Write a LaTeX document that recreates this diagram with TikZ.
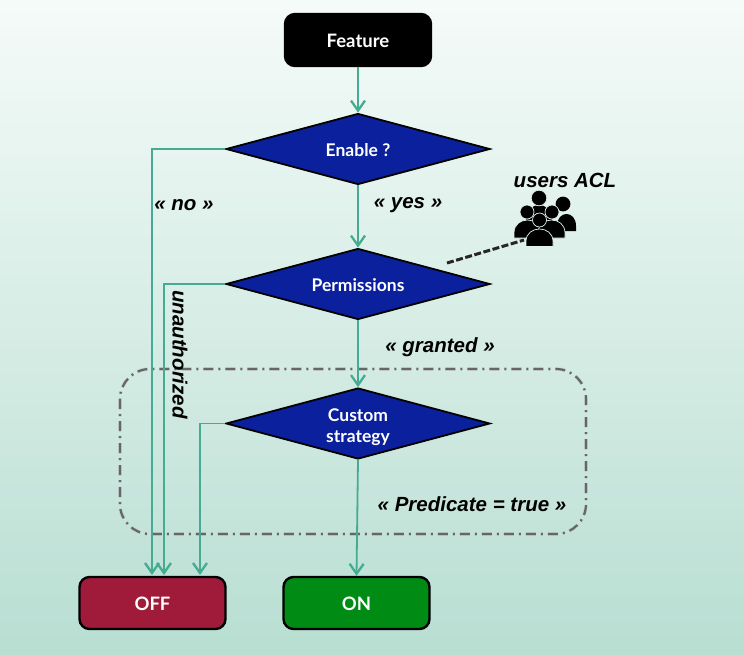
\documentclass[tikz,border=0pt]{standalone}
\usepackage{fontspec}
\setmainfont{Lato}
\newfontfamily\labelfont{Liberation Sans}
\usetikzlibrary{shapes.geometric,arrows.meta}
\definecolor{flow}{HTML}{45AB91}
\definecolor{dblue}{HTML}{0A209C}
\definecolor{offred}{HTML}{A01A3A}
\definecolor{ongreen}{HTML}{008C14}
\definecolor{bgtop}{HTML}{F5FBF9}
\definecolor{bgbot}{HTML}{B8DED2}
\newcommand{\domeshape}[4]{(#1,#4) -- (#1,#4-5) .. controls (#1,#3-#4/3+5/3+#3/3) and (#2,#3-#4/3+5/3+#3/3) .. (#2,#4-5) -- (#2,#4) -- cycle}
\newcommand{\dropline}[1]{\rule{0pt}{#1}}
\tikzset{
  decision/.style={diamond,aspect=3.72,draw=black,fill=dblue,line width=1.8pt,text=white,inner sep=0pt,
    minimum width=264pt,minimum height=71pt,font=\fontsize{17.5}{20}\selectfont\bfseries,align=center},
  terminal/.style={rectangle,rounded corners=10pt,draw=black,line width=2.4pt,text=white,
    minimum width=146pt,minimum height=52pt,text height=15.5pt,text depth=0pt,font=\fontsize{18.5}{20}\selectfont\bfseries},
  flowline/.style={draw=flow,line width=1.8pt,-{Straight Barb[length=10pt,width=14pt,line width=2.3pt]}},
  edgelabel/.style={font=\labelfont\fontsize{20.5}{22}\selectfont\bfseries\itshape,text=black,inner sep=0pt},
  person/.style={fill=black,draw=bgtop!70!bgbot,line width=0.7pt},
  rearperson/.style={fill=black}
}
\begin{document}
\begin{tikzpicture}[x=1pt,y=-1pt]
\useasboundingbox (0,0) rectangle (744,654);
\shade[top color=bgtop,bottom color=bgbot] (0,0) rectangle (744,654);

% grouping frame
\draw[black!30,line width=3.6pt,rounded corners=30pt,opacity=.4,dash pattern=on 10pt off 5pt on 2pt off 5pt]
  (120,369) rectangle (586,534);
\draw[black!60,line width=2.2pt,rounded corners=30pt,dash pattern=on 10pt off 5pt on 2pt off 5pt]
  (120,369) rectangle (586,534);

\node[terminal,fill=black] (feature) at (358,40) {Feature};
\node[decision] (enable) at (358,149) {\dropline{15pt}Enable ?};
\node[decision] (perm) at (358,284) {\dropline{15pt}Permissions};
\node[decision] (custom) at (358,423.5) {\dropline{20pt}Custom\\[1pt]strategy};
\node[terminal,fill=offred] (off) at (152.5,603) {OFF};
\node[terminal,fill=ongreen] (on) at (356.5,603) {ON};

\coordinate (offA) at (152,575);
\coordinate (offB) at (164,575);
\coordinate (offC) at (200,575);

\draw[flowline] (feature.south) -- (enable.north);
\draw[flowline] (enable.south) -- (perm.north);
\draw[flowline] (perm.south) -- (custom.north);
\draw[flowline] (custom.south) -- (on.north);
\draw[flowline] (enable.west) -| (offA);
\draw[flowline] (perm.west) -| (offB);
\draw[flowline] (custom.west) -| (offC);

\node[edgelabel] (lno) at (184,205) {« no »};
\node[edgelabel] (lyes) at (408,205) {« yes »};
\node[edgelabel] (lgranted) at (440,347) {« granted »};
\node[edgelabel] (lpred) at (472,504) {« Predicate = true »};
\node[edgelabel] (lacl) at (565,180) {users ACL};
\node[edgelabel,rotate=-90] (lunauth) at (180,354.5) {unauthorized};

% people icon
\coordinate (aclA) at (447,263);
\coordinate (aclB) at (524,240);
\draw[black!85,line width=3pt,dash pattern=on 7pt off 2.5pt] (aclA) -- (aclB);
\fill[rearperson] \domeshape{557}{576}{214}{231};
\fill[rearperson] (563,204) circle[radius=7.4pt];
\fill[rearperson] \domeshape{526}{552}{205}{225};
\draw[person] \domeshape{514}{541}{220}{238};
\draw[person] \domeshape{538}{565}{220}{238};
\draw[person] (539,198) circle[radius=7.8pt];
\draw[person] (527,212) circle[radius=7pt];
\draw[person] (552,212) circle[radius=7pt];
\draw[person] \domeshape{526}{553}{229}{246.5};
\draw[person] (539.5,220) circle[radius=7pt];
\end{tikzpicture}
\end{document}
